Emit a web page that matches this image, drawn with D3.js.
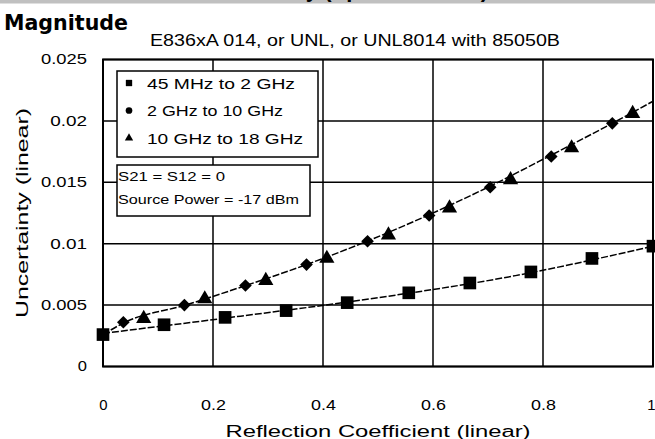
<!DOCTYPE html>
<html><head><meta charset="utf-8">
<script src="https://cdn.jsdelivr.net/npm/d3@7"></script>
<style>
html,body{margin:0;padding:0;background:#fff;}
svg{display:block;font-family:"Liberation Sans",Arial,sans-serif;}
</style></head>
<body><svg id="c" width="655" height="439"></svg>
<script>
// ---- data ----
const xTicks = [0, 0.2, 0.4, 0.6, 0.8, 1];
const xTickLabels = ["0", "0.2", "0.4", "0.6", "0.8", "1"];
const yTicks = [0, 0.005, 0.01, 0.015, 0.02, 0.025];
const yTickLabels = ["0", "0.005", "0.01", "0.015", "0.02", "0.025"];
const seriesNames = ["45 MHz to 2 GHz", "2 GHz to 10 GHz", "10 GHz to 18 GHz"];

const lowX = [0, 0.111, 0.222, 0.333, 0.444, 0.556, 0.667, 0.778, 0.889, 1.0];
const lowY = [0.0026, 0.0034, 0.0040, 0.00455, 0.0052, 0.0060, 0.0068, 0.0077, 0.0088, 0.0098];

const midX = [0.037, 0.148, 0.259, 0.370, 0.481, 0.593, 0.704, 0.815, 0.926];
const midY = [0.0036, 0.0050, 0.0066, 0.0083, 0.0102, 0.0123, 0.0146, 0.0171, 0.0198];

const highX = [0.074, 0.185, 0.296, 0.407, 0.519, 0.630, 0.741, 0.852, 0.963];
const highY = [0.0039, 0.0055, 0.0070, 0.0088, 0.0107, 0.0129, 0.0152, 0.0178, 0.0206];

// fitted curves
const fitLowX = [0, 0.25, 0.5, 0.75, 1.0];
const fitLowY = [0.0027, 0.0041, 0.0056, 0.0074, 0.0098];
const fitHighX = [0, 0.04, 0.15, 0.26, 0.37, 0.48, 0.59, 0.70, 0.81, 0.93, 1.0];
const fitHighY = [0.0026, 0.0036, 0.0050, 0.0066, 0.0083, 0.0102, 0.0123, 0.0146, 0.0171, 0.0199, 0.0216];

const titleText = "Magnitude";
const subtitleText = "E836xA 014, or UNL, or UNL8014 with 85050B";
const noteLines = ["S21 = S12 = 0", "Source Power = -17 dBm"];

// ---- drawing ----
const svg = d3.select("#c");
const L = 103, R = 653, T = 59.5, B = 366.5;
const x = d3.scaleLinear().domain([0, 1]).range([L, R]);
const y = d3.scaleLinear().domain([0, 0.025]).range([B, T]);

// top clipped banner
svg.append("rect").attr("x", 0).attr("y", 0).attr("width", 655).attr("height", 3.5).attr("fill", "#c0c0c0");
svg.append("text").attr("x", 488).attr("y", -3).attr("text-anchor", "end")
  .attr("font-size", 22).attr("font-weight", "bold").attr("fill", "#000")
  .text("Transmission Uncertainty (Specifications)");

svg.append("text").attr("x", 4).attr("y", 30).attr("font-size", 21).attr("font-weight", "bold")
  .attr("font-family", "DejaVu Sans, sans-serif")
  .attr("textLength", 124).attr("lengthAdjust", "spacingAndGlyphs").text(titleText);
svg.append("text").attr("x", 150).attr("y", 46).attr("font-size", 16.5)
  .attr("textLength", 410).attr("lengthAdjust", "spacingAndGlyphs").text(subtitleText);

// grid
const g = svg.append("g");
g.selectAll(".gx").data(xTicks).join("line")
  .attr("x1", d => x(d)).attr("x2", d => x(d)).attr("y1", T).attr("y2", B)
  .attr("stroke", "#000").attr("stroke-width", 1.5);
g.selectAll(".gy").data(yTicks).join("line")
  .attr("x1", L).attr("x2", R).attr("y1", d => y(d)).attr("y2", d => y(d))
  .attr("stroke", "#000").attr("stroke-width", 1.5);
g.append("rect").attr("x", L).attr("y", T).attr("width", R - L).attr("height", B - T)
  .attr("fill", "none").attr("stroke", "#000").attr("stroke-width", 2);

// axes labels
const xAxis = d3.axisBottom(x).tickValues(xTicks).tickFormat((d, i) => xTickLabels[i]).tickSize(0).tickPadding(34);
const xa = svg.append("g").attr("transform", `translate(0,${B})`).call(xAxis);
xa.select(".domain").remove();
xa.selectAll("text").attr("font-size", 14).attr("fill", "#000").attr("font-family", "Liberation Sans, Arial, sans-serif")
  .attr("textLength", (d, i) => xTickLabels[i].length * 8.3).attr("lengthAdjust", "spacingAndGlyphs")
  .attr("text-anchor", (d, i) => i === xTicks.length - 1 ? "end" : "middle")
  .attr("dx", (d, i) => i === xTicks.length - 1 ? 2 : 0);

const yAxis = d3.axisLeft(y).tickValues(yTicks).tickFormat((d, i) => yTickLabels[i]).tickSize(0).tickPadding(16);
const ya = svg.append("g").attr("transform", `translate(${L},0)`).call(yAxis);
ya.select(".domain").remove();
ya.selectAll("text").attr("font-size", 14).attr("fill", "#000").attr("font-family", "Liberation Sans, Arial, sans-serif")
  .attr("textLength", (d, i) => yTickLabels[i].length * 9.2).attr("lengthAdjust", "spacingAndGlyphs");

svg.append("text").attr("x", x(0.5)).attr("y", 437).attr("text-anchor", "middle").attr("font-size", 16)
  .attr("textLength", 305).attr("lengthAdjust", "spacingAndGlyphs")
  .text("Reflection Coefficient (linear)");
svg.append("text").attr("transform", `translate(28,${(T + B) / 2}) rotate(-90)`).attr("text-anchor", "middle")
  .attr("font-size", 16).attr("textLength", 210).attr("lengthAdjust", "spacingAndGlyphs")
  .text("Uncertainty (linear)");

// fitted lines
const line = d3.line().x(d => x(d[0])).y(d => y(d[1])).curve(d3.curveMonotoneX);
svg.append("path").datum(d3.zip(fitLowX, fitLowY)).attr("d", line)
  .attr("fill", "none").attr("stroke", "#000").attr("stroke-width", 1.5).attr("stroke-dasharray", "7,2");
svg.append("path").datum(d3.zip(fitHighX, fitHighY)).attr("d", line)
  .attr("fill", "none").attr("stroke", "#000").attr("stroke-width", 1.5).attr("stroke-dasharray", "7,2");

// markers
const sq = d3.symbol().type(d3.symbolSquare).size(160);
const dm = d3.symbol().type(d3.symbolSquare).size(80);
const tr = d3.symbol().type(d3.symbolTriangle).size(100);
svg.append("g").selectAll("path").data(d3.zip(lowX, lowY)).join("path")
  .attr("d", sq).attr("transform", d => `translate(${x(d[0])},${y(d[1])})`).attr("fill", "#000");
svg.append("g").selectAll("path").data(d3.zip(midX, midY)).join("path")
  .attr("d", dm).attr("transform", d => `translate(${x(d[0])},${y(d[1])}) rotate(45)`).attr("fill", "#000");
svg.append("g").selectAll("path").data(d3.zip(highX, highY)).join("path")
  .attr("d", tr).attr("transform", d => `translate(${x(d[0])},${y(d[1])})`).attr("fill", "#000");

// legend box
svg.append("rect").attr("x", 117).attr("y", 71).attr("width", 201).attr("height", 86)
  .attr("fill", "#fff").attr("stroke", "#000").attr("stroke-width", 1.5);
const legSyms = [d3.symbol().type(d3.symbolSquare).size(40), d3.symbol().type(d3.symbolCircle).size(35), d3.symbol().type(d3.symbolTriangle).size(30)];
const legW = [148, 136, 156];
seriesNames.forEach((n, i) => {
  const yy = 83 + i * 27.5;
  svg.append("path").attr("d", legSyms[i]).attr("transform", `translate(129,${yy})`).attr("fill", "#000");
  svg.append("text").attr("x", 147).attr("y", yy + 5.5).attr("font-size", 15)
    .attr("textLength", legW[i]).attr("lengthAdjust", "spacingAndGlyphs").text(n);
});

// note box
svg.append("rect").attr("x", 117).attr("y", 165).attr("width", 193).attr("height", 51)
  .attr("fill", "#fff").attr("stroke", "#000").attr("stroke-width", 1.5);
const noteW = [107, 181];
noteLines.forEach((t, i) => {
  svg.append("text").attr("x", 118).attr("y", 181 + i * 23).attr("font-size", 13)
    .attr("textLength", noteW[i]).attr("lengthAdjust", "spacingAndGlyphs").text(t);
});
</script></body></html>
